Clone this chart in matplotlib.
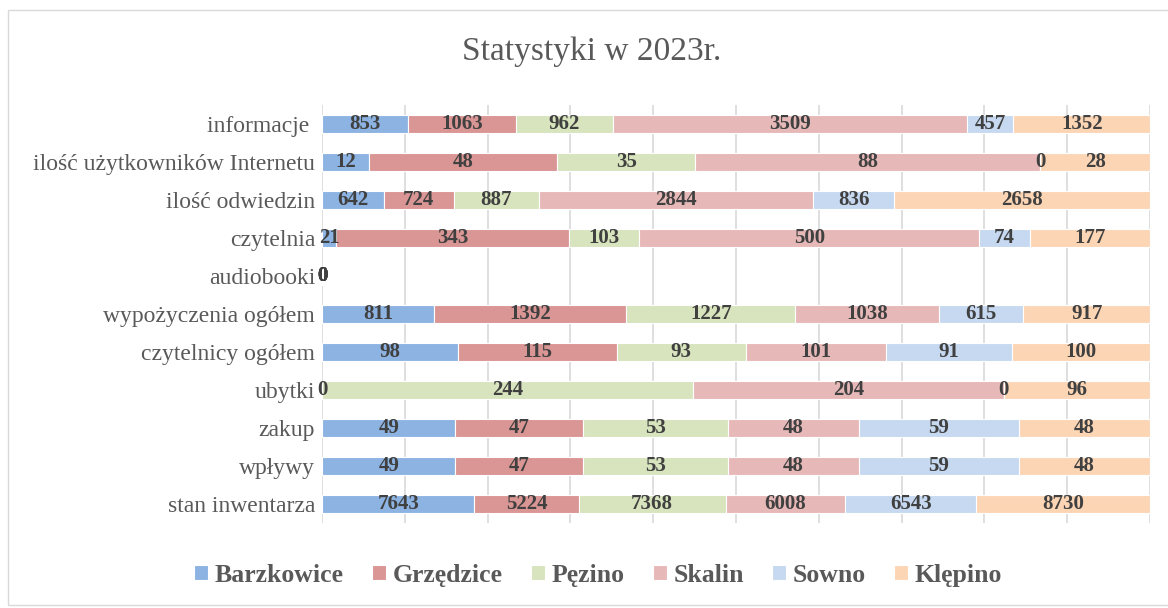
import matplotlib.pyplot as plt
import numpy as np
from matplotlib.patches import Rectangle

plt.rcParams['font.family'] = ['Liberation Serif', 'DejaVu Serif']

# dane (od góry do dołu)
categories = ['informacje ', 'ilość użytkowników Internetu', 'ilość odwiedzin', 'czytelnia',
              'audiobooki', 'wypożyczenia ogółem', 'czytelnicy ogółem', 'ubytki',
              'zakup', 'wpływy', 'stan inwentarza']
series = ['Barzkowice', 'Grzędzice', 'Pęzino', 'Skalin', 'Sowno', 'Klępino']
barzkowice = [853, 12, 642, 21, 0, 811, 98, 0, 49, 49, 7643]
grzedzice = [1063, 48, 724, 343, 0, 1392, 115, np.nan, 47, 47, 5224]
pezino = [962, 35, 887, 103, 0, 1227, 93, 244, 53, 53, 7368]
skalin = [3509, 88, 2844, 500, 0, 1038, 101, 204, 48, 48, 6008]
sowno = [457, 0, 836, 74, 0, 615, 91, 0, 59, 59, 6543]
klepino = [1352, 28, 2658, 177, 0, 917, 100, 96, 48, 48, 8730]

colors = ['#8DB3E2', '#DA9694', '#D7E4BD', '#E6B9B8', '#C6D9F1', '#FCD5B5']

data = np.array([barzkowice, grzedzice, pezino, skalin, sowno, klepino], dtype=float)
totals = np.nansum(data, axis=0)
safe = np.where(totals == 0, 1, totals)
shares = np.nan_to_num(data) / safe

fig = plt.figure(figsize=(11.68, 6.08), dpi=100)
ax = fig.add_axes([0.2757, 0.1398, 0.9846 - 0.2757, 0.8273 - 0.1398])

y = np.arange(len(categories))
left = np.zeros(len(categories))
for i, name in enumerate(series):
    ax.barh(y, shares[i], left=left, height=0.45, color=colors[i],
            edgecolor='white', linewidth=0.8, label=name, zorder=2)
    for j in range(len(categories)):
        if np.isnan(data[i, j]):
            continue
        ax.text(left[j] + shares[i, j] / 2, y[j], f'{int(data[i, j])}',
                ha='center', va='center', fontsize=15, fontweight='bold',
                color='#404040', zorder=3)
    left += shares[i]

ax.set_xlim(0, 1)
ax.set_ylim(len(categories) - 0.5, -0.5)
ax.set_yticks(y)
ax.set_yticklabels(categories, fontsize=17, color='#595959')
ax.set_xticks(np.linspace(0, 1, 11))
ax.set_xticklabels([])
ax.tick_params(axis='y', length=0, pad=5)
ax.tick_params(axis='x', length=0)
ax.grid(axis='x', color='#D9D9D9', linewidth=1.2, zorder=0)
for s in ax.spines.values():
    s.set_visible(False)

fig.text(0.507, 0.915, 'Statystyki w 2023r.', ha='center', va='center',
         fontsize=24, color='#595959')

fig.legend(loc='center', bbox_to_anchor=(0.512, 0.054), ncol=6, frameon=False,
           prop={'size': 18.5, 'weight': 'bold'}, labelcolor='#595959',
           handlelength=0.55, handleheight=0.55, handletextpad=0.25, columnspacing=1.1)

fig.patches.append(Rectangle((0.007, 0.005), 1.1, 0.978, transform=fig.transFigure,
                             fill=False, edgecolor='#D9D9D9', linewidth=1))

plt.savefig('out.png', dpi=100)
